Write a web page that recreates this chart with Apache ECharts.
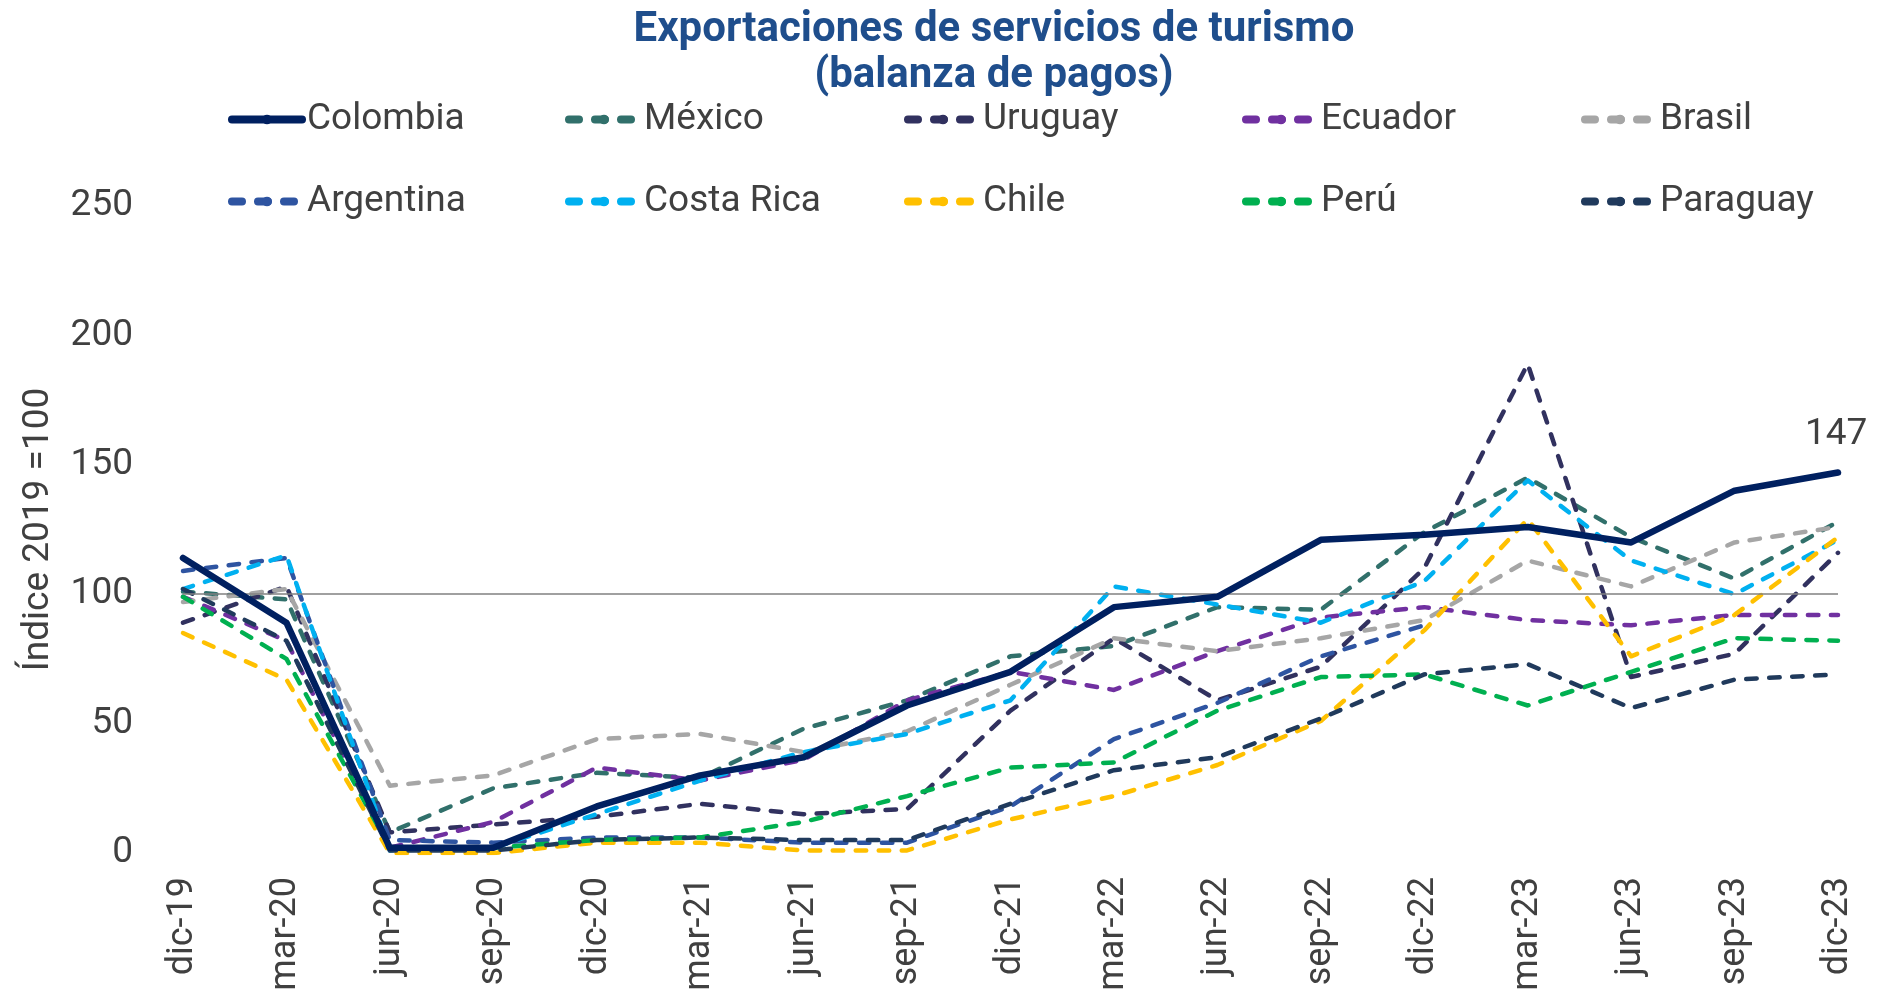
<!DOCTYPE html>
<html>
<head>
<meta charset="utf-8">
<title>Exportaciones de servicios de turismo</title>
<script src="https://cdn.jsdelivr.net/npm/echarts@6/dist/echarts.min.js"></script>
<style>
  html, body { margin: 0; padding: 0; background: #fff; }
  #chart { width: 1878px; height: 997px; }
</style>
</head>
<body>
<div id="chart"></div>
<script>
// trimestres
const categories = ['dic-19', 'mar-20', 'jun-20', 'sep-20', 'dic-20', 'mar-21', 'jun-21', 'sep-21', 'dic-21',
  'mar-22', 'jun-22', 'sep-22', 'dic-22', 'mar-23', 'jun-23', 'sep-23', 'dic-23']

// índice 2019 = 100
const colombia = [114, 89, 2, 2, 18, 30, 37, 57, 70, 95, 99, 121, 123, 126, 120, 140, 147]
const mexico = [101, 98, 8, 25, 31, 29, 48, 59, 76, 80, 95, 94, 124, 145, 122, 106, 128]
const uruguay = [89, 103, 8, 11, 14, 19, 15, 17, 55, 83, 59, 72, 110, 189, 68, 77, 116]
const ecuador = [99, 82, 2, 12, 33, 28, 36, 59, 70, 63, 78, 91, 95, 90, 88, 92, 92]
const brasil = [97, 102, 26, 30, 44, 46, 39, 47, 65, 83, 78, 83, 90, 113, 103, 120, 126]
const argentina = [109, 114, 5, 4, 6, 6, 4, 4, 18, 44, 58, 76, 88, null, null, null, null]
const costaRica = [102, 115, 1, 2, 15, 28, 39, 46, 59, 103, 96, 89, 105, 144, 113, 100, 121]
const chile = [85, 67, 0, 0, 4, 4, 1, 1, 13, 22, 34, 51, 86, 129, 76, 92, 122]
const peru = [99, 75, 2, 2, 5, 6, 12, 22, 33, 35, 55, 68, 69, 57, 70, 83, 82]
const paraguay = [102, 82, 1, 1, 5, 6, 5, 5, 19, 32, 37, 52, 69, 73, 56, 67, 69]

const yTicks = [0, 50, 100, 150, 200, 250]
const baseline = 100

const seriesNames = ['Colombia', 'México', 'Uruguay', 'Ecuador', 'Brasil',
  'Argentina', 'Costa Rica', 'Chile', 'Perú', 'Paraguay']
const seriesValues = [colombia, mexico, uruguay, ecuador, brasil, argentina, costaRica, chile, peru, paraguay]
const seriesColors = ['#002060', '#31706B', '#31315F', '#7030A0', '#A6A6A6',
  '#2E54A1', '#00B0F0', '#FFC000', '#00B050', '#203A5C']

const fontFamily = 'Roboto, "Noto Sans", sans-serif'
const textColor = '#404040'
const legendLeft = [228, 565, 904, 1242, 1581]
const legendTop = [101, 183]

const chart = echarts.init(document.getElementById('chart'))

const series = seriesNames.map(function(name, i) {
  const solid = i === 0
  const s = {
    name: name,
    type: 'line',
    data: seriesValues[i],
    color: seriesColors[i],
    symbol: 'none',
    z: solid ? 5 : 3,
    animation: false,
    lineStyle: {
      width: solid ? 6.5 : 4.5,
      type: solid ? 'solid' : [10.5, 12.5],
      cap: 'round',
      join: 'round'
    }
  }
  if (solid) {
    // etiqueta del último dato (147)
    s.endLabel = {
      show: true,
      offset: [-41, -38],
      fontSize: 37,
      color: textColor,
      fontFamily: fontFamily,
      formatter: '{c}'
    }
    s.markLine = {
      silent: true,
      symbol: 'none',
      label: { show: false },
      lineStyle: { color: '#808080', width: 1.5, type: 'solid' },
      data: [{ yAxis: baseline }]
    }
  }
  return s
})

const legends = seriesNames.map(function(name, i) {
  return {
    data: [name],
    left: legendLeft[i % 5],
    top: legendTop[Math.floor(i / 5)],
    padding: 0,
    itemWidth: 70,
    itemHeight: 12,
    selectedMode: false,
    textStyle: { fontSize: 37, color: textColor, fontFamily: fontFamily },
    lineStyle: i === 0 ? { width: 8 } : { width: 8, type: [10, 16], cap: 'round' }
  }
})

chart.setOption({
  backgroundColor: '#fff',
  title: {
    text: 'Exportaciones de servicios de turismo\n(balanza de pagos)',
    left: 989,
    top: 2,
    textAlign: 'center',
    textStyle: {
      fontSize: 42,
      fontWeight: 'bold',
      lineHeight: 46,
      color: '#1F4E8C',
      fontFamily: fontFamily
    }
  },
  legend: legends,
  grid: {
    left: 183,
    right: 40,
    top: 206,
    bottom: 144
  },
  xAxis: {
    type: 'category',
    data: categories,
    boundaryGap: false,
    axisLine: { show: false },
    axisTick: { show: false },
    axisLabel: {
      rotate: 90,
      margin: 24,
      fontSize: 36,
      color: textColor,
      fontFamily: fontFamily
    }
  },
  yAxis: {
    type: 'value',
    min: yTicks[0],
    max: yTicks[yTicks.length - 1],
    interval: yTicks[1] - yTicks[0],
    name: 'Índice 2019 =100',
    nameLocation: 'middle',
    nameGap: 126,
    nameTextStyle: { fontSize: 37, color: textColor, fontFamily: fontFamily },
    splitLine: { show: false },
    axisLine: { show: false },
    axisTick: { show: false },
    axisLabel: {
      margin: 50,
      fontSize: 37,
      color: textColor,
      fontFamily: fontFamily
    }
  },
  series: series
})
</script>
</body>
</html>
